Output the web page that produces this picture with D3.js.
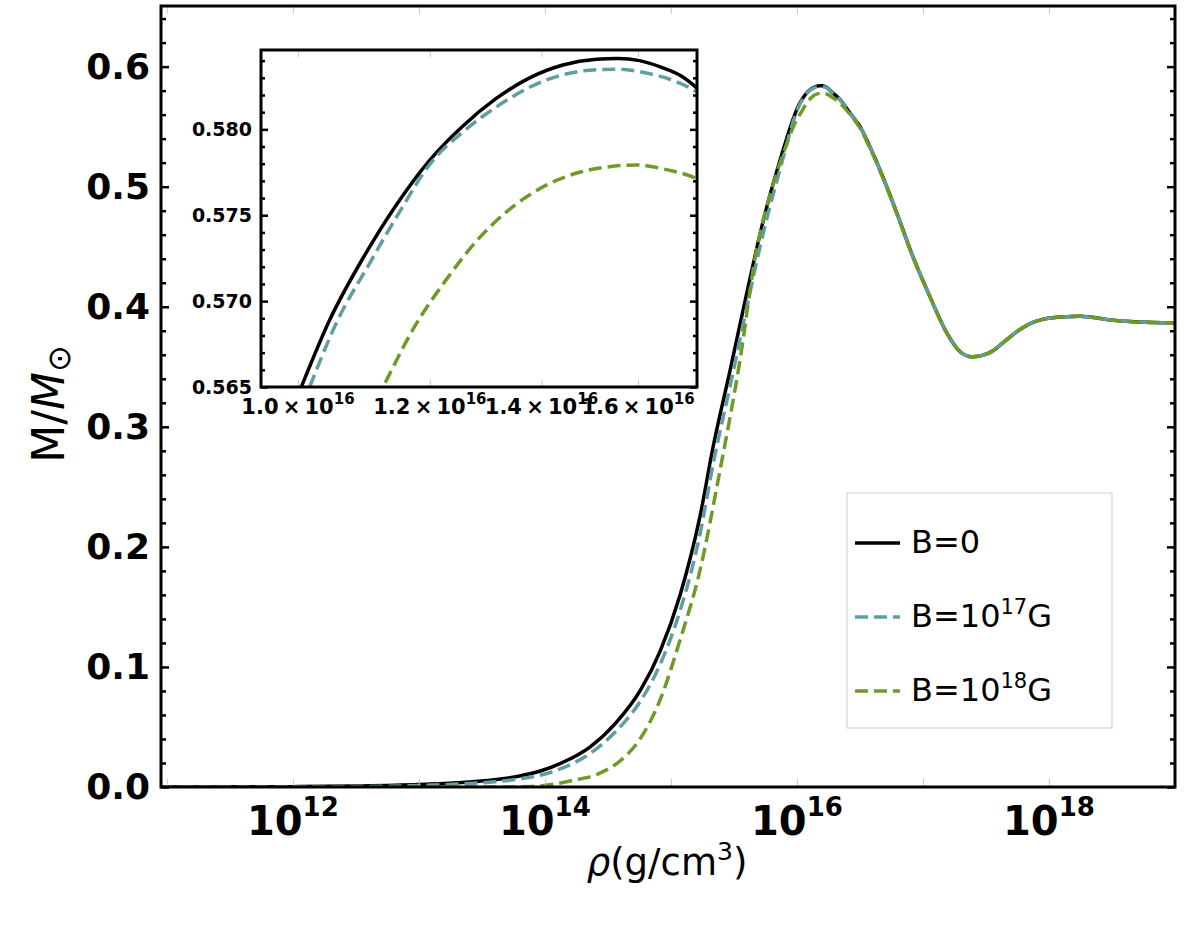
<!DOCTYPE html>
<html>
<head>
<meta charset="utf-8">
<title>M/M⊙ vs ρ</title>
<style>
  body { margin: 0; background: #fff; }
  svg { display: block; font-family: 'DejaVu Sans', Verdana, sans-serif; }
  .frame { fill: none; stroke: #000; stroke-width: 3px; }
  .line { fill: none; stroke-width: 3.5px; stroke-linejoin: round; }
  .b0 { stroke: #000; }
  .b17 { stroke: #5f9fa3; stroke-dasharray: 13 6; }
  .b18 { stroke: #6f9a27; stroke-dasharray: 13 6; }
  .ytick line { stroke: #000; stroke-width: 2.5px; }
  .xtick line { stroke: #c8c8c8; stroke-width: 1px; }
  .axis path.domain { display: none; }
</style>
</head>
<body>
<script src="https://d3js.org/d3.v7.min.js"></script>
<script>
'use strict';

// log10(rho [g/cm^3]) and M/Msun
const lgRhoB0 = [10.95, 11.5, 12.0, 12.5, 13.0, 13.3, 13.6, 13.8, 13.97, 14.12, 14.36, 14.56, 14.755, 14.914, 15.073, 15.23,
	15.335, 15.47, 15.602, 15.732, 15.866, 16.002, 16.019, 16.039, 16.059, 16.079, 16.099, 16.119, 16.139, 16.159,
	16.179, 16.192, 16.205, 16.217, 16.231, 16.239, 16.27, 16.343, 16.42, 16.502, 16.58, 16.66, 16.793, 16.922,
	17.057, 17.19, 17.295, 17.388, 17.47, 17.533, 17.612, 17.692, 17.77, 17.85, 17.95, 18.089, 18.248, 18.486, 18.724, 19.0];
const massB0 = [0.0, 0.0001, 0.0003, 0.0008, 0.002, 0.0035, 0.006, 0.0092, 0.0135, 0.0195, 0.0335, 0.053, 0.08, 0.113, 0.16, 0.225,
	0.2834, 0.3472, 0.4113, 0.4713, 0.522, 0.565, 0.5689, 0.5725, 0.5756, 0.5782, 0.5802, 0.5818, 0.583, 0.58375,
	0.58408, 0.58412, 0.584, 0.58365, 0.58305, 0.58245, 0.5795, 0.5725, 0.5615, 0.5498, 0.533, 0.5137, 0.478, 0.4413,
	0.408, 0.378, 0.3625, 0.3583, 0.3595, 0.362, 0.368, 0.375, 0.381, 0.386, 0.3895, 0.3915, 0.392, 0.389, 0.3872, 0.3865];

const lgRhoB17 = [10.95, 11.5, 12.0, 12.5, 13.0, 13.3, 13.6, 13.8, 13.97, 14.12, 14.36, 14.56, 14.755, 14.914, 15.073, 15.23,
	15.335, 15.47, 15.602, 15.732, 15.866, 16.007, 16.023, 16.043, 16.061, 16.079, 16.099, 16.119, 16.139, 16.159,
	16.179, 16.193, 16.209, 16.225, 16.239, 16.27, 16.343, 16.42, 16.502, 16.58, 16.66, 16.793, 16.922,
	17.057, 17.19, 17.295, 17.388, 17.47, 17.533, 17.612, 17.692, 17.77, 17.85, 17.95, 18.089, 18.248, 18.486, 18.724, 19.0];
const massB17 = [0.0, 0.0, 0.0001, 0.0004, 0.0012, 0.0024, 0.0043, 0.0067, 0.01, 0.015, 0.028, 0.046, 0.071, 0.102, 0.147, 0.21,
	0.269, 0.334, 0.3995, 0.461, 0.5145, 0.565, 0.56872, 0.5722, 0.5752, 0.57795, 0.57985, 0.5813, 0.58245, 0.58318,
	0.58347, 0.5835, 0.58328, 0.58285, 0.5822, 0.5792, 0.5722, 0.5613, 0.5497, 0.533, 0.5137, 0.478, 0.4413,
	0.408, 0.378, 0.3625, 0.3583, 0.3595, 0.362, 0.368, 0.375, 0.381, 0.386, 0.3895, 0.3915, 0.392, 0.389, 0.3872, 0.3865];

const lgRhoB18 = [10.95, 13.0, 13.6, 13.9, 14.05, 14.2, 14.44, 14.6, 14.755, 14.914, 15.073, 15.23, 15.39, 15.549, 15.672, 15.806,
	15.9, 15.98, 16.051, 16.069, 16.089, 16.109, 16.129, 16.149, 16.169, 16.189, 16.203, 16.219, 16.239, 16.27, 16.343,
	16.42, 16.502, 16.58, 16.66, 16.793, 16.922, 17.057, 17.19, 17.295, 17.388, 17.47, 17.533, 17.612, 17.692, 17.77,
	17.85, 17.95, 18.089, 18.248, 18.486, 18.724, 19.0];
const massB18 = [0.0, 0.0, 0.0, 0.0005, 0.002, 0.005, 0.0117, 0.022, 0.04, 0.0725, 0.1225, 0.18, 0.264, 0.356, 0.443, 0.5,
	0.53, 0.552, 0.565, 0.56835, 0.57125, 0.5737, 0.5755, 0.57675, 0.5775, 0.57785, 0.57793, 0.5777, 0.57715, 0.5752, 0.5695,
	0.5605, 0.5485, 0.532, 0.513, 0.4775, 0.441, 0.408, 0.378, 0.3625, 0.3583, 0.3595, 0.362, 0.368, 0.375, 0.381,
	0.386, 0.3895, 0.3915, 0.392, 0.389, 0.3872, 0.3865];

const seriesClass = ['b0', 'b17', 'b18'];
const legendBase = ['B=0', 'B=10', 'B=10'];
const legendSup = ['', '17', '18'];
const legendTail = ['', 'G', 'G'];

const xLabelPowers = [12, 14, 16, 18];
const xTickPowers = [11, 12, 13, 14, 15, 16, 17, 18];
const yLabels = [0, 0.1, 0.2, 0.3, 0.4, 0.5, 0.6];

const insetXLabels = [1.0, 1.2, 1.4, 1.6];
const insetYLabels = [0.565, 0.570, 0.575, 0.580];

const series = [
	{cls: seriesClass[0], data: lgRhoB0.map((l, i) => ({rho: Math.pow(10, l), m: massB0[i]}))},
	{cls: seriesClass[1], data: lgRhoB17.map((l, i) => ({rho: Math.pow(10, l), m: massB17[i]}))},
	{cls: seriesClass[2], data: lgRhoB18.map((l, i) => ({rho: Math.pow(10, l), m: massB18[i]}))}
];

const W = 1200, H = 930;
const plot = {left: 161, right: 1175, top: 6, bottom: 787};
const ins = {left: 261, right: 697, top: 50, bottom: 387};

const svg = d3.select('body').append('svg')
	.attr('width', W)
	.attr('height', H);

svg.append('rect').attr('width', W).attr('height', H).attr('fill', '#fff');

const defs = svg.append('defs');
defs.append('clipPath').attr('id', 'clipMain').append('rect')
	.attr('x', plot.left).attr('y', plot.top)
	.attr('width', plot.right - plot.left).attr('height', plot.bottom - plot.top);
defs.append('clipPath').attr('id', 'clipInset').append('rect')
	.attr('x', ins.left).attr('y', ins.top)
	.attr('width', ins.right - ins.left).attr('height', ins.bottom - ins.top);

// ---------- main chart ----------
const x = d3.scaleLog().domain([Math.pow(10, 10.954), 1e19]).range([plot.left, plot.right]);
const y = d3.scaleLinear().domain([0, 0.6505]).range([plot.bottom, plot.top]);

function drawTicks(g, xs, ys, xVals, yMajor, yMinor, majorLen, minorLen, box) {
	// light x ticks top / bottom
	g.append('g').attr('class', 'axis xtick')
		.attr('transform', 'translate(0,' + box.bottom + ')')
		.call(d3.axisBottom(xs).tickValues(xVals).tickSize(-majorLen).tickFormat(''));
	g.append('g').attr('class', 'axis xtick')
		.attr('transform', 'translate(0,' + box.top + ')')
		.call(d3.axisTop(xs).tickValues(xVals).tickSize(-majorLen).tickFormat(''));
	// black y ticks left / right
	[[d3.axisLeft, box.left], [d3.axisRight, box.right]].forEach(function(a) {
		g.append('g').attr('class', 'axis ytick')
			.attr('transform', 'translate(' + a[1] + ',0)')
			.call(a[0](ys).tickValues(yMajor).tickSize(-majorLen).tickFormat(''));
		g.append('g').attr('class', 'axis ytick')
			.attr('transform', 'translate(' + a[1] + ',0)')
			.call(a[0](ys).tickValues(yMinor).tickSize(-minorLen).tickFormat(''));
	});
}

const mainG = svg.append('g');

const lineMain = d3.line()
	.x(d => x(d.rho))
	.y(d => y(d.m))
	.curve(d3.curveMonotoneX);

mainG.append('g').attr('clip-path', 'url(#clipMain)')
	.selectAll('path').data(series).join('path')
	.attr('class', d => 'line ' + d.cls)
	.attr('d', d => lineMain(d.data));

const yMinorMain = d3.range(0, 33).filter(i => i % 5 !== 0).map(i => i * 0.02);
drawTicks(mainG, x, y, xTickPowers.map(p => Math.pow(10, p)), yLabels, yMinorMain, 8, 5, plot);

// y labels
mainG.append('g')
	.attr('transform', 'translate(' + plot.left + ',0)')
	.call(d3.axisLeft(y).tickValues(yLabels).tickSize(0).tickPadding(11).tickFormat(d3.format('.1f')))
	.call(g => g.select('.domain').remove())
	.selectAll('text')
	.attr('font-family', 'DejaVu Sans')
	.attr('font-size', 36)
	.attr('font-weight', 'bold')
	.attr('fill', '#000');

// x labels 10^n
const xLab = mainG.append('g').selectAll('text').data(xLabelPowers).join('text')
	.attr('x', d => x(Math.pow(10, d)))
	.attr('y', 835)
	.attr('text-anchor', 'middle')
	.attr('font-size', 40)
	.attr('font-weight', 'bold');
xLab.append('tspan').text('10');
xLab.append('tspan').attr('dy', -19).attr('font-size', 26).text(d => d);

mainG.append('rect').attr('class', 'frame')
	.attr('x', plot.left).attr('y', plot.top)
	.attr('width', plot.right - plot.left).attr('height', plot.bottom - plot.top);

// axis titles
const xTitle = svg.append('text')
	.attr('x', 667).attr('y', 875)
	.attr('text-anchor', 'middle')
	.attr('font-size', 37);
xTitle.append('tspan').attr('font-style', 'italic').text('ρ');
xTitle.append('tspan').text('(g/cm');
xTitle.append('tspan').attr('dy', -15).attr('font-size', 25).text('3');
xTitle.append('tspan').attr('dy', 15).text(')');

const yTitle = svg.append('text')
	.attr('transform', 'translate(64,404) rotate(-90)')
	.attr('text-anchor', 'middle')
	.attr('font-size', 44);
yTitle.append('tspan').text('M/');
yTitle.append('tspan').attr('font-style', 'italic').text('M');
yTitle.append('tspan').attr('dy', 6).attr('font-size', 32).text('⊙');

// ---------- legend ----------
const leg = svg.append('g');
leg.append('rect')
	.attr('x', 847).attr('y', 493).attr('width', 265).attr('height', 235)
	.attr('fill', '#fff').attr('stroke', '#cccccc').attr('stroke-width', 1);
const legRow = leg.selectAll('g.row').data(seriesClass).join('g')
	.attr('class', 'row')
	.attr('transform', (d, i) => 'translate(0,' + (543 + i * 74) + ')');
legRow.append('line')
	.attr('class', d => 'line ' + d)
	.attr('x1', 855).attr('x2', 900).attr('y1', 0).attr('y2', 0)
	.attr('stroke-dasharray', (d, i) => i === 0 ? null : '11 6');
const legText = legRow.append('text')
	.attr('x', 911).attr('y', 10)
	.attr('font-size', 32);
legText.append('tspan').text((d, i) => legendBase[i]);
legText.append('tspan').attr('dy', -13).attr('font-size', 21).text((d, i) => legendSup[i]);
legText.append('tspan').attr('dy', (d, i) => legendSup[i] ? 13 : 0).text((d, i) => legendTail[i]);

// ---------- inset ----------
const xi = d3.scaleLog().domain([Math.pow(10, 15.9778), Math.pow(10, 16.2395)]).range([ins.left, ins.right]);
const yi = d3.scaleLinear().domain([0.565, 0.58462]).range([ins.bottom, ins.top]);

const insG = svg.append('g');
insG.append('rect')
	.attr('x', ins.left).attr('y', ins.top)
	.attr('width', ins.right - ins.left).attr('height', ins.bottom - ins.top)
	.attr('fill', '#fff');

const lineInset = d3.line()
	.x(d => xi(d.rho))
	.y(d => yi(d.m))
	.curve(d3.curveMonotoneX);

insG.append('g').attr('clip-path', 'url(#clipInset)')
	.selectAll('path').data(series).join('path')
	.attr('class', d => 'line ' + d.cls)
	.attr('d', d => lineInset(d.data));

const yMinorInset = d3.range(0, 20).filter(i => i % 5 !== 0).map(i => 0.565 + i * 0.001);
drawTicks(insG, xi, yi, insetXLabels.map(v => v * 1e16), insetYLabels, yMinorInset, 7, 4, ins);

insG.append('g')
	.attr('transform', 'translate(' + ins.left + ',0)')
	.call(d3.axisLeft(yi).tickValues(insetYLabels).tickSize(0).tickPadding(9).tickFormat(d3.format('.3f')))
	.call(g => g.select('.domain').remove())
	.selectAll('text')
	.attr('font-family', 'DejaVu Sans')
	.attr('font-size', 19)
	.attr('font-weight', 'bold')
	.attr('fill', '#000');

const xiLab = insG.append('g').selectAll('text').data(insetXLabels).join('text')
	.attr('x', d => xi(d * 1e16))
	.attr('y', 414)
	.attr('text-anchor', 'middle')
	.attr('font-size', 21)
	.attr('font-weight', 'bold');
xiLab.append('tspan').text(d => d3.format('.1f')(d) + '\u2009×\u200910');
xiLab.append('tspan').attr('dy', -10).attr('font-size', 15).text('16');

insG.append('rect').attr('class', 'frame')
	.attr('x', ins.left).attr('y', ins.top)
	.attr('width', ins.right - ins.left).attr('height', ins.bottom - ins.top);
</script>
</body>
</html>
